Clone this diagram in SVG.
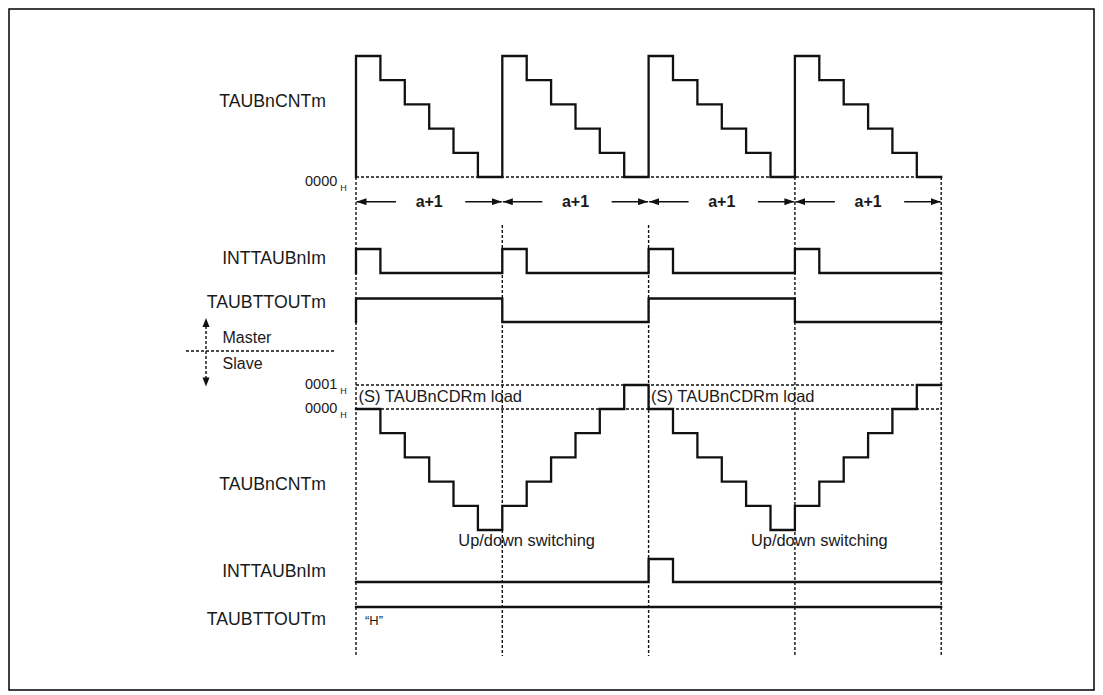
<svg xmlns="http://www.w3.org/2000/svg" width="1103" height="695" viewBox="0 0 1103 695">
<style>
.lbl{font-family:"Liberation Sans",Arial,sans-serif;font-size:17.7px;fill:#1a1a1a;text-anchor:end}
.sm{font-family:"Liberation Sans",Arial,sans-serif;fill:#1a1a1a}
.sig{fill:none;stroke:#111;stroke-width:2.3;stroke-linejoin:miter;stroke-linecap:square}
.dash{fill:none;stroke:#111;stroke-width:1.4;stroke-dasharray:3 2}
.arr{stroke:#111;stroke-width:1.6;marker-end:url(#ah)}
.ap{font-family:"Liberation Sans",Arial,sans-serif;font-size:16px;font-weight:bold;fill:#1a1a1a;text-anchor:middle}
</style>
<defs>
<marker id="ah" markerUnits="userSpaceOnUse" markerWidth="10" markerHeight="7" refX="10" refY="3.5" orient="auto">
<path d="M0,0 L10,3.5 L0,7 z" fill="#111"/>
</marker>
</defs>
<rect x="0" y="0" width="1103" height="695" fill="#fff"/>
<rect x="9" y="9" width="1085" height="681" fill="none" stroke="#000" stroke-width="1.5"/>

<g id="connectors">
<path class="dash" d="M356,177 V656 M502.3,225 V656 M648.6,225 V656 M794.9,177 V656 M941.2,177 V656"/>
<path class="dash" d="M356,177 H941.2 M356,385 H941.2 M356,409 H941.2"/>
<path class="dash" d="M186,351 H334 M206,326 V379"/>
<path d="M206,318 L209.5,327 L202.5,327 z M206,386.5 L209.5,377.5 L202.5,377.5 z" fill="#111"/>
<line class="arr" x1="396" y1="201.7" x2="356.5" y2="201.7"/>
<line class="arr" x1="465.3" y1="201.7" x2="501.8" y2="201.7"/>
<line class="arr" x1="542.3" y1="201.7" x2="502.8" y2="201.7"/>
<line class="arr" x1="611.6" y1="201.7" x2="648.1" y2="201.7"/>
<line class="arr" x1="688.6" y1="201.7" x2="649.1" y2="201.7"/>
<line class="arr" x1="757.9" y1="201.7" x2="794.4" y2="201.7"/>
<line class="arr" x1="834.9" y1="201.7" x2="795.4" y2="201.7"/>
<line class="arr" x1="904.2" y1="201.7" x2="940.7" y2="201.7"/>
<text class="ap" x="429.2" y="207">a+1</text>
<text class="ap" x="575.5" y="207">a+1</text>
<text class="ap" x="721.8" y="207">a+1</text>
<text class="ap" x="868.1" y="207">a+1</text>
</g>

<g id="master-cnt">
<text class="lbl" x="326" y="107">TAUBnCNTm</text>
<text class="sm" x="305" y="186" font-size="14.5">0000<tspan font-size="9" dx="3" dy="4.5">H</tspan></text>
<path class="sig" d="M356,177 V56 H380.4 V80.2 H404.8 V104.4 H429.2 V128.6 H453.5 V152.8 H477.9 V177 H502.3 V56 H526.7 V80.2 H551.1 V104.4 H575.5 V128.6 H599.8 V152.8 H624.2 V177 H648.6 V56 H673 V80.2 H697.4 V104.4 H721.8 V128.6 H746.1 V152.8 H770.5 V177 H794.9 V56 H819.3 V80.2 H843.7 V104.4 H868.1 V128.6 H892.4 V152.8 H916.8 V177 H941.2"/>
</g>

<g id="master-int">
<text class="lbl" x="326" y="264">INTTAUBnIm</text>
<path class="sig" d="M356,273 V249 H380.4 V273 H502.3 V249 H526.7 V273 H648.6 V249 H673 V273 H794.9 V249 H819.3 V273 H941.2"/>
</g>

<g id="master-out">
<text class="lbl" x="326" y="308">TAUBTTOUTm</text>
<path class="sig" d="M356,322 V298.5 H502.3 V322 H648.6 V298.5 H794.9 V322 H941.2"/>
</g>

<g id="master-slave">
<text class="sm" x="222.5" y="343" font-size="16">Master</text>
<text class="sm" x="222.5" y="369" font-size="16">Slave</text>
</g>

<g id="slave-cnt">
<text class="sm" x="305" y="389" font-size="14.5">0001<tspan font-size="9" dx="3" dy="4.5">H</tspan></text>
<text class="sm" x="305" y="413" font-size="14.5">0000<tspan font-size="9" dx="3" dy="4.5">H</tspan></text>
<text class="lbl" x="326" y="490">TAUBnCNTm</text>
<text class="sm" x="358.5" y="401.5" font-size="16.5">(S) TAUBnCDRm load</text>
<text class="sm" x="651" y="401.5" font-size="16.5">(S) TAUBnCDRm load</text>
<path class="sig" d="M356,409 H380.4 V433.2 H404.8 V457.4 H429.2 V481.6 H453.5 V505.8 H477.9 V530 H502.3 V505.8 H526.7 V481.6 H551.1 V457.4 H575.5 V433.2 H599.8 V409 H624.2 V385 H648.6 V409 H673 V433.2 H697.4 V457.4 H721.8 V481.6 H746.1 V505.8 H770.5 V530 H794.9 V505.8 H819.3 V481.6 H843.7 V457.4 H868.1 V433.2 H892.4 V409 H916.8 V385 H941.2"/>
<text class="sm" x="458.3" y="546" font-size="16.4">Up/down switching</text>
<text class="sm" x="751" y="546" font-size="16.4">Up/down switching</text>
</g>

<g id="slave-int">
<text class="lbl" x="326" y="577">INTTAUBnIm</text>
<path class="sig" d="M356,582 H648.6 V559 H673 V582 H941.2"/>
</g>

<g id="slave-out">
<text class="lbl" x="326" y="625">TAUBTTOUTm</text>
<path class="sig" d="M356,607 H941.2"/>
<text class="sm" x="365" y="625" font-size="13">“H”</text>
</g>
</svg>
